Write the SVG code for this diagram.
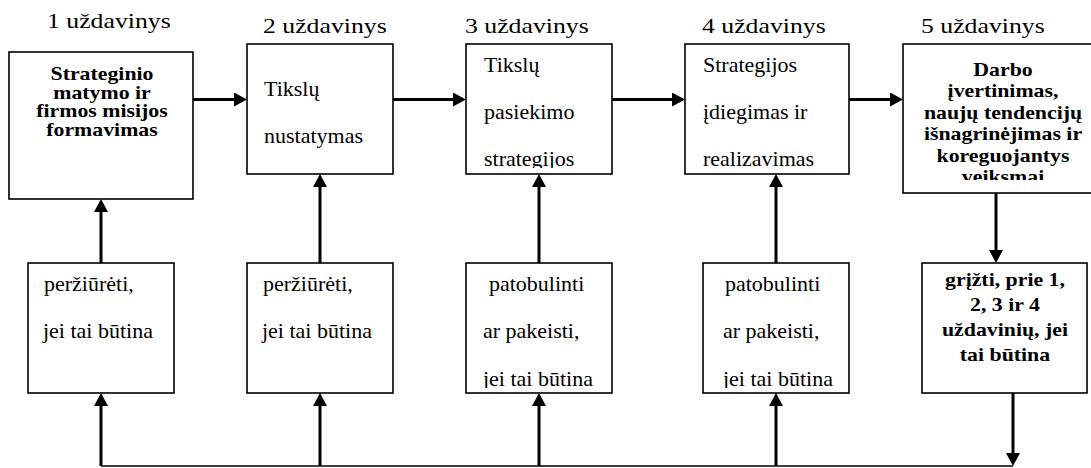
<svg xmlns="http://www.w3.org/2000/svg" width="1091" height="468" viewBox="0 0 1091 468">
  <style>
    text { font-family: "Liberation Serif", "Times New Roman", serif; fill: #000; }
    .title { font-size: 22px; }
    .reg { font-size: 20px; }
    .bold { font-size: 18.5px; font-weight: bold; }
    .box { fill: #fff; stroke: #000; stroke-width: 1.6; }
    .arrow { stroke: #000; stroke-width: 3; fill: none; marker-end: url(#head); }
    .rail { stroke: #000; stroke-width: 1.6; fill: none; }
  </style>
  <defs>
    <marker id="head" markerUnits="userSpaceOnUse" viewBox="0 0 13 14" refX="8" refY="7" markerWidth="13" markerHeight="14" orient="auto">
      <path d="M0,0 L13,7 L0,14 Z" fill="#000"/>
    </marker>
    <clipPath id="clip3"><rect x="466" y="44" width="146" height="124"/></clipPath>
    <clipPath id="clip4"><rect x="685" y="44" width="164" height="124"/></clipPath>
    <clipPath id="clip5"><rect x="903" y="44" width="200" height="136"/></clipPath>
    <clipPath id="clip8"><rect x="466" y="263" width="146" height="125"/></clipPath>
    <clipPath id="clip9"><rect x="703" y="263" width="146" height="125"/></clipPath>
  </defs>

  <!-- stage headings -->
  <g id="headings">
    <text class="title" transform="translate(47,28) scale(1.17,1)">1 uždavinys</text>
    <text class="title" transform="translate(263,33) scale(1.17,1)">2 uždavinys</text>
    <text class="title" transform="translate(465,33) scale(1.17,1)">3 uždavinys</text>
    <text class="title" transform="translate(702,33) scale(1.17,1)">4 uždavinys</text>
    <text class="title" transform="translate(921,33) scale(1.17,1)">5 uždavinys</text>
  </g>

  <!-- connectors -->
  <g id="connectors">
    <!-- forward flow between stages -->
    <line class="arrow" x1="193" y1="99.5" x2="242" y2="99.5"/>
    <line class="arrow" x1="393" y1="99.5" x2="461" y2="99.5"/>
    <line class="arrow" x1="612" y1="99.5" x2="680" y2="99.5"/>
    <line class="arrow" x1="849" y1="99.5" x2="898" y2="99.5"/>
    <!-- review boxes feeding stages -->
    <line class="arrow" x1="101" y1="263" x2="101" y2="204"/>
    <line class="arrow" x1="320" y1="263" x2="320" y2="179"/>
    <line class="arrow" x1="539" y1="263" x2="539" y2="179"/>
    <line class="arrow" x1="776" y1="263" x2="776" y2="179"/>
    <!-- evaluation to return box -->
    <line class="arrow" x1="996" y1="193" x2="996" y2="258"/>
    <!-- return box down to the feedback rail -->
    <line class="arrow" x1="1013" y1="393" x2="1013" y2="461"/>
    <!-- feedback rail -->
    <line class="rail" x1="101" y1="466" x2="1013" y2="466"/>
    <line class="arrow" x1="101" y1="466" x2="101" y2="398"/>
    <line class="arrow" x1="320" y1="466" x2="320" y2="398"/>
    <line class="arrow" x1="539" y1="466" x2="539" y2="398"/>
    <line class="arrow" x1="776" y1="466" x2="776" y2="398"/>
  </g>

  <!-- stage 1 -->
  <g id="stage1">
    <rect class="box" x="9" y="52" width="184" height="147"/>
    <text class="bold" text-anchor="middle" transform="translate(102,80) scale(1.18,1)">Strateginio</text>
    <text class="bold" text-anchor="middle" transform="translate(102,98.7) scale(1.18,1)">matymo ir</text>
    <text class="bold" text-anchor="middle" transform="translate(102,117.4) scale(1.18,1)">firmos misijos</text>
    <text class="bold" text-anchor="middle" transform="translate(102,136) scale(1.18,1)">formavimas</text>
  </g>

  <!-- stage 2 -->
  <g id="stage2">
    <rect class="box" x="247" y="44" width="146" height="130"/>
    <text class="reg" transform="translate(264,96) scale(1.1,1)">Tikslų</text>
    <text class="reg" transform="translate(264,143) scale(1.1,1)">nustatymas</text>
  </g>

  <!-- stage 3 -->
  <g id="stage3">
    <rect class="box" x="466" y="44" width="146" height="130"/>
    <g clip-path="url(#clip3)">
      <text class="reg" transform="translate(484,72) scale(1.1,1)">Tikslų</text>
      <text class="reg" transform="translate(484,119) scale(1.1,1)">pasiekimo</text>
      <text class="reg" transform="translate(484,166) scale(1.1,1)">strategijos</text>
    </g>
  </g>

  <!-- stage 4 -->
  <g id="stage4">
    <rect class="box" x="685" y="44" width="164" height="130"/>
    <g clip-path="url(#clip4)">
      <text class="reg" transform="translate(703,72) scale(1.1,1)">Strategijos</text>
      <text class="reg" transform="translate(703,119) scale(1.1,1)">įdiegimas ir</text>
      <text class="reg" transform="translate(703,166) scale(1.1,1)">realizavimas</text>
    </g>
  </g>

  <!-- stage 5 -->
  <g id="stage5">
    <rect class="box" x="903" y="44" width="200" height="149"/>
    <g clip-path="url(#clip5)">
      <text class="bold" text-anchor="middle" transform="translate(1003,76) scale(1.18,1)">Darbo</text>
      <text class="bold" text-anchor="middle" transform="translate(1003,97.4) scale(1.18,1)">įvertinimas,</text>
      <text class="bold" text-anchor="middle" transform="translate(1003,118.8) scale(1.18,1)">naujų tendencijų</text>
      <text class="bold" text-anchor="middle" transform="translate(1003,140.2) scale(1.18,1)">išnagrinėjimas ir</text>
      <text class="bold" text-anchor="middle" transform="translate(1003,161.6) scale(1.18,1)">koreguojantys</text>
      <text class="bold" text-anchor="middle" transform="translate(1003,183) scale(1.18,1)">veiksmai</text>
    </g>
  </g>

  <!-- review 1 -->
  <g id="review1">
    <rect class="box" x="28" y="263" width="146" height="130"/>
    <text class="reg" transform="translate(44,291) scale(1.1,1)">peržiūrėti,</text>
    <text class="reg" transform="translate(43,338) scale(1.1,1)">jei tai būtina</text>
  </g>

  <!-- review 2 -->
  <g id="review2">
    <rect class="box" x="247" y="263" width="146" height="130"/>
    <text class="reg" transform="translate(263,291) scale(1.1,1)">peržiūrėti,</text>
    <text class="reg" transform="translate(262,338) scale(1.1,1)">jei tai būtina</text>
  </g>

  <!-- review 3 -->
  <g id="review3">
    <rect class="box" x="466" y="263" width="146" height="130"/>
    <g clip-path="url(#clip8)">
      <text class="reg" transform="translate(489,291) scale(1.1,1)">patobulinti</text>
      <text class="reg" transform="translate(483,338) scale(1.1,1)">ar pakeisti,</text>
      <text class="reg" transform="translate(483,386) scale(1.1,1)">jei tai būtina</text>
    </g>
  </g>

  <!-- review 4 -->
  <g id="review4">
    <rect class="box" x="703" y="263" width="146" height="130"/>
    <g clip-path="url(#clip9)">
      <text class="reg" transform="translate(725,291) scale(1.1,1)">patobulinti</text>
      <text class="reg" transform="translate(723,338) scale(1.1,1)">ar pakeisti,</text>
      <text class="reg" transform="translate(723,386) scale(1.1,1)">jei tai būtina</text>
    </g>
  </g>

  <!-- return step -->
  <g id="return">
    <rect class="box" x="922" y="263" width="165" height="130"/>
    <text class="bold" text-anchor="middle" transform="translate(1005,286) scale(1.18,1)">grįžti, prie 1,</text>
    <text class="bold" text-anchor="middle" transform="translate(1005,311) scale(1.18,1)">2, 3 ir 4</text>
    <text class="bold" text-anchor="middle" transform="translate(1005,336) scale(1.18,1)">uždavinių, jei</text>
    <text class="bold" text-anchor="middle" transform="translate(1005,361) scale(1.18,1)">tai būtina</text>
  </g>
</svg>
